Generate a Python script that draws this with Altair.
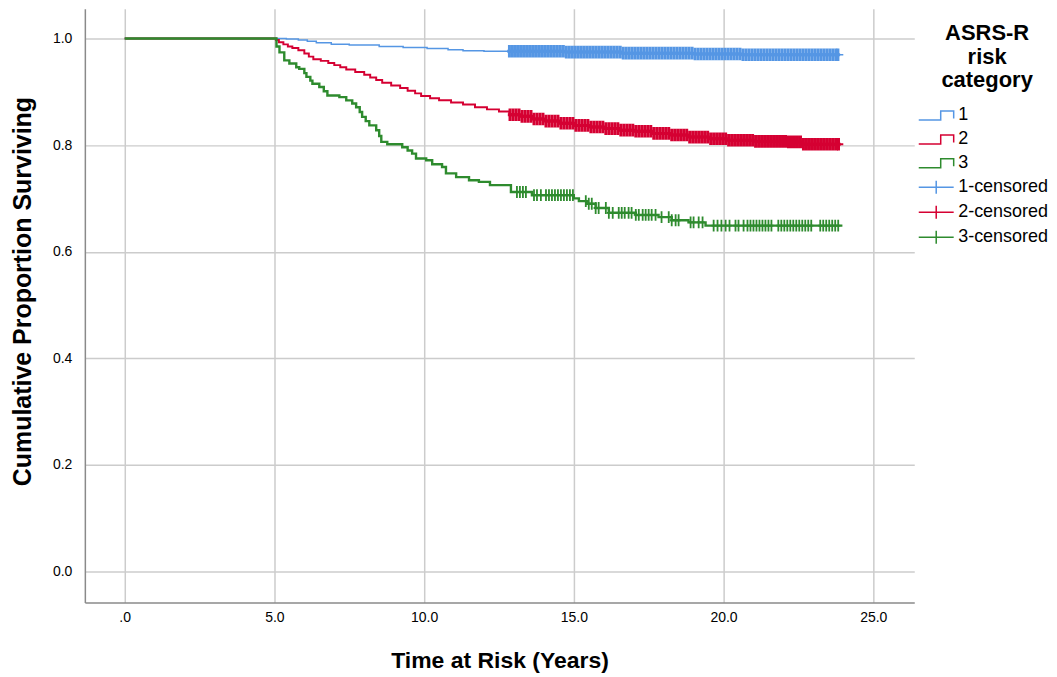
import altair as alt
import pandas as pd
from bisect import bisect_right

FONT = "Liberation Sans"

GROUPS = ["1", "2", "3"]
CENSOR_KEYS = ["1-censored", "2-censored", "3-censored"]
COLORS = ["#5596E4", "#D50032", "#2E8B2E"]
LINE_WIDTHS = [1.5, 2.4, 2.0]

X_TICKS = [0, 5, 10, 15, 20, 25]
Y_TICKS = [0.0, 0.2, 0.4, 0.6, 0.8, 1.0]

# Step curves (time in years, cumulative proportion surviving)
T1 = [0, 5.0, 5.4, 5.8, 6.1, 6.4, 6.9, 7.5, 8.5, 9.3, 10.1, 10.8, 11.3, 12.0, 14.7, 16.6, 19.0, 20.6, 24.0]
S1 = [1.0, 1.0, 0.999, 0.997, 0.995, 0.992, 0.989, 0.988, 0.985, 0.983, 0.981, 0.979, 0.977, 0.976, 0.9745, 0.9725, 0.971, 0.9695, 0.9695]

T2 = [0, 5.0, 5.05, 5.15, 5.3, 5.45, 5.6, 5.8, 6.0, 6.15, 6.3, 6.55, 6.8, 7.0, 7.2, 7.4, 7.7, 8.0, 8.2,
      8.4, 8.6, 8.9, 9.2, 9.45, 9.7, 9.9, 10.2, 10.5, 10.9, 11.3, 11.7, 12.1, 12.5, 12.85, 13.2, 13.6,
      14.0, 14.5, 15.0, 15.5, 16.0, 16.5, 17.0, 17.6, 18.2, 18.8, 19.5, 20.1, 21.0, 22.1, 22.6, 24.0]
S2 = [1.0, 1.0, 0.997, 0.993, 0.989, 0.985, 0.982, 0.978, 0.972, 0.966, 0.961, 0.958, 0.954, 0.950, 0.946,
      0.942, 0.937, 0.932, 0.927, 0.922, 0.917, 0.912, 0.907, 0.902, 0.897, 0.892, 0.888, 0.884, 0.880,
      0.876, 0.871, 0.867, 0.863, 0.857, 0.854, 0.849, 0.845, 0.841, 0.837, 0.834, 0.831, 0.828, 0.826,
      0.822, 0.819, 0.815, 0.812, 0.809, 0.807, 0.806, 0.8015, 0.8015]

T3 = [0, 5.0, 5.07, 5.17, 5.33, 5.5, 5.73, 5.83, 6.0, 6.07, 6.2, 6.27, 6.5, 6.65, 6.77, 7.17, 7.4, 7.6,
      7.73, 7.85, 7.93, 8.05, 8.17, 8.4, 8.5, 8.57, 8.77, 9.27, 9.45, 9.6, 9.73, 10.07, 10.27, 10.6,
      10.73, 11.07, 11.5, 11.83, 12.2, 12.9, 13.6, 15.0, 15.17, 15.43, 15.73, 16.17, 17.07, 17.83,
      18.27, 18.83, 19.4, 23.97]
S3 = [1.0, 1.0, 0.985, 0.974, 0.959, 0.953, 0.946, 0.943, 0.935, 0.928, 0.921, 0.915, 0.909, 0.901,
      0.893, 0.890, 0.884, 0.878, 0.871, 0.862, 0.853, 0.845, 0.837, 0.828, 0.817, 0.806, 0.8015,
      0.796, 0.790, 0.784, 0.775, 0.7715, 0.764, 0.759, 0.747, 0.740, 0.734, 0.731, 0.725, 0.712,
      0.706, 0.700, 0.695, 0.690, 0.682, 0.673, 0.669, 0.665, 0.659, 0.655, 0.649, 0.649]

# Censoring times (years)
C1 = [12.85, 12.95, 13.05, 13.15, 13.25, 13.35, 13.45, 13.55, 13.65, 13.75, 13.85, 13.95,
      14.05, 14.15, 14.25, 14.35, 14.45, 14.55, 14.65, 14.75, 14.85, 14.95, 15.05, 15.15,
      15.25, 15.35, 15.45, 15.55, 15.65, 15.75, 15.85, 15.95, 16.05, 16.15, 16.25, 16.35,
      16.45, 16.55, 16.65, 16.75, 16.85, 16.95, 17.05, 17.15, 17.25, 17.35, 17.45, 17.55,
      17.65, 17.75, 17.85, 17.95, 18.05, 18.15, 18.25, 18.35, 18.45, 18.55, 18.65, 18.75,
      18.85, 18.95, 19.05, 19.15, 19.25, 19.35, 19.45, 19.55, 19.65, 19.75, 19.85, 19.95,
      20.05, 20.15, 20.25, 20.35, 20.45, 20.55, 20.65, 20.75, 20.85, 20.95, 21.05, 21.15,
      21.25, 21.35, 21.45, 21.55, 21.65, 21.75, 21.85, 21.95, 22.05, 22.15, 22.25, 22.35,
      22.45, 22.55, 22.65, 22.75, 22.85, 22.95, 23.05, 23.15, 23.25, 23.35, 23.45, 23.55,
      23.65, 23.75, 23.82]
C2 = [12.87, 12.97, 13.07, 13.17, 13.27, 13.37, 13.47, 13.57, 13.67, 13.77, 13.87, 13.97,
      14.07, 14.17, 14.27, 14.37, 14.47, 14.57, 14.67, 14.77, 14.87, 14.97, 15.07, 15.17,
      15.27, 15.37, 15.47, 15.57, 15.67, 15.77, 15.87, 15.97, 16.07, 16.17, 16.27, 16.37,
      16.47, 16.57, 16.67, 16.77, 16.87, 16.97, 17.07, 17.17, 17.27, 17.37, 17.47, 17.57,
      17.67, 17.77, 17.87, 17.97, 18.07, 18.17, 18.27, 18.37, 18.47, 18.57, 18.67, 18.77,
      18.87, 18.97, 19.07, 19.17, 19.27, 19.37, 19.47, 19.57, 19.67, 19.77, 19.87, 19.97,
      20.07, 20.17, 20.27, 20.37, 20.47, 20.57, 20.67, 20.77, 20.87, 20.97, 21.07, 21.17,
      21.27, 21.37, 21.47, 21.57, 21.67, 21.77, 21.87, 21.97, 22.07, 22.17, 22.27, 22.37,
      22.47, 22.57, 22.67, 22.77, 22.87, 22.97, 23.07, 23.17, 23.27, 23.37, 23.47, 23.57,
      23.67, 23.77, 23.84]
C3 = [13.1, 13.2, 13.3, 13.4, 13.67, 13.77, 13.9, 14.07, 14.17, 14.27, 14.37, 14.47, 14.57,
      14.67, 14.77, 14.87, 14.97, 15.4, 15.5, 15.6, 15.73, 15.83, 16.07, 16.17, 16.3, 16.5,
      16.6, 16.7, 16.83, 16.93, 17.07, 17.17, 17.3, 17.4, 17.5, 17.6, 17.73, 17.93, 18.17,
      18.27, 18.4, 18.5, 18.9, 19.0, 19.17, 19.3, 19.67, 19.8, 19.93, 20.07, 20.2, 20.4,
      20.5, 20.67, 20.8, 20.9, 21.0, 21.1, 21.2, 21.3, 21.4, 21.5, 21.6, 21.83, 21.93,
      22.03, 22.13, 22.23, 22.33, 22.43, 22.53, 22.63, 22.73, 22.83, 22.93, 23.23, 23.33,
      23.43, 23.53, 23.63, 23.73, 23.83]

STEP_PATH = "M-1.75,0.45H0.45V-0.45H1.75V0.3"
PLUS_PATH = "M-1.75,0H1.75M0,-0.65V0.65"
MARK_PLUS = "M0,-1V1M-0.35,0H0.35"

curves = [(T1, S1), (T2, S2), (T3, S3)]
censors = [C1, C2, C3]


def surv_at(t, T, S):
    return S[bisect_right(T, t) - 1]


line_rows = []
for g, (T, S) in zip(GROUPS, curves):
    for t, s in zip(T, S):
        line_rows.append({"group": g, "t": t, "s": s})
lines_df = pd.DataFrame(line_rows)

dense_rows, sparse_rows = [], []
for i, (key, C) in enumerate(zip(CENSOR_KEYS, censors)):
    T, S = curves[i]
    for t in C:
        row = {"group": key, "t": t, "s": surv_at(t, T, S)}
        (sparse_rows if i == 2 else dense_rows).append(row)
dense_df = pd.DataFrame(dense_rows)
sparse_df = pd.DataFrame(sparse_rows)

ALL_KEYS = GROUPS + CENSOR_KEYS
color_scale = alt.Scale(domain=ALL_KEYS, range=COLORS + COLORS)
shape_scale = alt.Scale(domain=ALL_KEYS, range=[STEP_PATH] * 3 + [PLUS_PATH] * 3)

legend = alt.Legend(
    title=["ASRS-R", "risk", "category"],
    orient="none",
    legendX=842,
    legendY=14,
    titleFontSize=22,
    titleFontWeight="bold",
    titleFont=FONT,
    titleColor="#000000",
    titleAnchor="middle",
    titleAlign="center",
    titleLineHeight=24,
    titlePadding=12,
    labelFont=FONT,
    labelFontSize=18,
    labelColor="#000000",
    labelOffset=11,
    symbolSize=400,
    symbolStrokeWidth=1.5,
    symbolFillColor="transparent",
    rowPadding=4,
    padding=0,
)

x_enc = alt.X(
    "t:Q",
    scale=alt.Scale(domain=[-1.33, 26.37], nice=False, zero=False),
    axis=alt.Axis(
        values=X_TICKS,
        labelExpr="datum.value == 0 ? '.0' : format(datum.value, '.1f')",
        title="Time at Risk (Years)",
    ),
)
y_enc = alt.Y(
    "s:Q",
    scale=alt.Scale(domain=[-0.058, 1.056], nice=False, zero=False),
    axis=alt.Axis(values=Y_TICKS, format=".1f", title="Cumulative Proportion Surviving", titleY=283),
)
color_enc = alt.Color("group:N", scale=color_scale, legend=legend)

lines = alt.Chart(lines_df).mark_line(interpolate="step-after").encode(
    x=x_enc,
    y=y_enc,
    color=color_enc,
    strokeWidth=alt.StrokeWidth(
        "group:N", scale=alt.Scale(domain=GROUPS, range=LINE_WIDTHS), legend=None
    ),
    order="t:Q",
)

dense = alt.Chart(dense_df).mark_point(
    shape=MARK_PLUS, size=160, strokeWidth=3.0, filled=False, opacity=1
).encode(x=x_enc, y=y_enc, color=color_enc)

sparse = alt.Chart(sparse_df).mark_point(
    shape=MARK_PLUS, size=140, strokeWidth=1.8, filled=False, opacity=1
).encode(x=x_enc, y=y_enc, color=color_enc)

legend_layer = alt.Chart(lines_df).transform_filter("datum.t < -100").mark_point(
    filled=False, strokeWidth=1.5, opacity=1
).encode(
    x=x_enc,
    y=y_enc,
    color=color_enc,
    shape=alt.Shape("group:N", scale=shape_scale, legend=legend),
)

chart = (
    alt.layer(lines, dense, sparse, legend_layer)
    .properties(width=831, height=595, padding={"left": 2, "top": 0, "right": 0, "bottom": 0})
    .configure_view(stroke=None)
    .configure_axis(
        domain=True,
        domainColor="#8a8a8a",
        domainWidth=1.5,
        grid=True,
        gridColor="#cccccc",
        gridWidth=1.5,
        ticks=False,
        labelFont=FONT,
        labelFontSize=14,
        labelColor="#000000",
        titleFont=FONT,
        titleFontWeight="bold",
        titleColor="#000000",
    )
    .configure_axisX(labelPadding=8, titlePadding=25, titleFontSize=23)
    .configure_axisY(labelPadding=13, titlePadding=17, titleFontSize=25)
)

chart.save("out.html", embed_options={"renderer": "svg", "actions": False})
